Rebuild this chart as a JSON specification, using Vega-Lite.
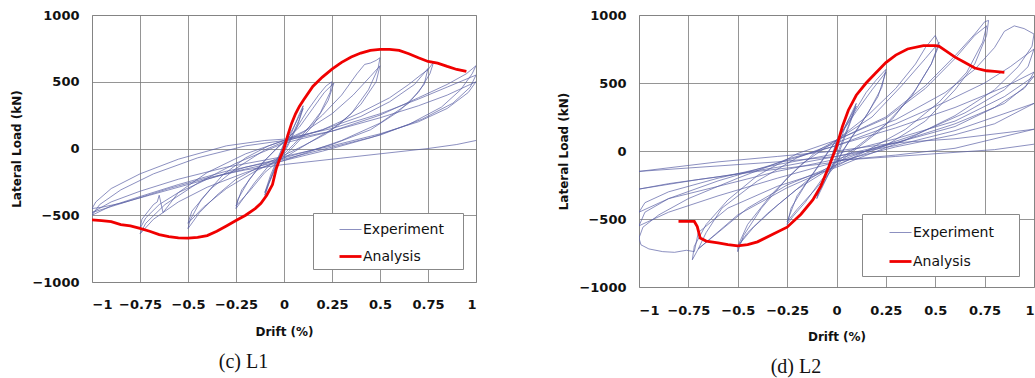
{
"$schema": "https://vega.github.io/schema/vega-lite/v6.json",
"background": "white",
"padding": {"left": 10, "top": 8, "right": 0, "bottom": 0},
"spacing": 163,
"bounds": "flush",
"config": {
  "view": {"stroke": "#aaaaaa", "strokeWidth": 1},
  "axis": {"labelFont": "DejaVu Sans", "labelFontSize": 13, "labelFontWeight": "bold", "labelColor": "#111111", "titleFont": "DejaVu Sans", "titleFontSize": 12, "titleFontWeight": "bold", "titleColor": "#111111", "ticks": false, "domain": false, "grid": true, "gridColor": "#7a7a7a", "gridWidth": 0.8, "labelPadding": 13},
  "legend": {"labelFont": "DejaVu Sans", "labelFontSize": 14, "labelColor": "#111111"}
},
"resolve": {"scale": {"color": "independent", "strokeWidth": "independent"}, "legend": {"color": "independent", "strokeWidth": "independent"}},
"hconcat": [
{
  "width": 384, "height": 267,
  "title": {"text": "(c) L1", "orient": "bottom", "frame": "bounds", "anchor": "middle", "font": "Liberation Serif", "fontSize": 20, "fontWeight": "normal", "color": "#111111", "offset": 15},
  "data": {"values": [
{"s":"Experiment","x":0,"y":0},{"s":"Experiment","x":0.04,"y":120},{"s":"Experiment","x":0.08,"y":260},{"s":"Experiment","x":0.1,"y":320},{"s":"Experiment","x":0.08,"y":220},{"s":"Experiment","x":0.04,"y":90},{"s":"Experiment","x":0,"y":-20},{"s":"Experiment","x":-0.04,"y":-130},{"s":"Experiment","x":-0.08,"y":-270},{"s":"Experiment","x":-0.1,"y":-350},{"s":"Experiment","x":-0.08,"y":-260},{"s":"Experiment","x":-0.04,"y":-110},{"s":"Experiment","x":0,"y":30},{"s":"Experiment","x":0.05,"y":160},{"s":"Experiment","x":0.1,"y":300},{"s":"Experiment","x":0.07,"y":170},{"s":"Experiment","x":0.02,"y":20},{"s":"Experiment","x":0,"y":-30},{"s":"Experiment","x":-0.05,"y":-160},{"s":"Experiment","x":-0.1,"y":-330},{"s":"Experiment","x":-0.07,"y":-200},{"s":"Experiment","x":-0.02,"y":-30},{"s":"Experiment","x":0,"y":40},
{"s":"Experiment","x":0.06,"y":140},{"s":"Experiment","x":0.12,"y":280},{"s":"Experiment","x":0.18,"y":400},{"s":"Experiment","x":0.22,"y":470},{"s":"Experiment","x":0.25,"y":500},{"s":"Experiment","x":0.24,"y":420},{"s":"Experiment","x":0.19,"y":270},{"s":"Experiment","x":0.12,"y":140},{"s":"Experiment","x":0.05,"y":30},{"s":"Experiment","x":0,"y":-40},{"s":"Experiment","x":-0.08,"y":-130},{"s":"Experiment","x":-0.15,"y":-250},{"s":"Experiment","x":-0.21,"y":-370},{"s":"Experiment","x":-0.25,"y":-450},{"s":"Experiment","x":-0.24,"y":-380},{"s":"Experiment","x":-0.18,"y":-230},{"s":"Experiment","x":-0.1,"y":-90},{"s":"Experiment","x":-0.03,"y":10},{"s":"Experiment","x":0,"y":50},
{"s":"Experiment","x":0.08,"y":160},{"s":"Experiment","x":0.15,"y":300},{"s":"Experiment","x":0.21,"y":420},{"s":"Experiment","x":0.26,"y":490},{"s":"Experiment","x":0.23,"y":360},{"s":"Experiment","x":0.15,"y":170},{"s":"Experiment","x":0.06,"y":30},{"s":"Experiment","x":0,"y":-60},{"s":"Experiment","x":-0.1,"y":-180},{"s":"Experiment","x":-0.18,"y":-320},{"s":"Experiment","x":-0.25,"y":-430},{"s":"Experiment","x":-0.22,"y":-310},{"s":"Experiment","x":-0.12,"y":-120},{"s":"Experiment","x":-0.04,"y":0},{"s":"Experiment","x":0,"y":50},
{"s":"Experiment","x":0.1,"y":120},{"s":"Experiment","x":0.2,"y":250},{"s":"Experiment","x":0.3,"y":400},{"s":"Experiment","x":0.38,"y":560},{"s":"Experiment","x":0.42,"y":630},{"s":"Experiment","x":0.45,"y":640},{"s":"Experiment","x":0.48,"y":660},{"s":"Experiment","x":0.5,"y":680},{"s":"Experiment","x":0.49,"y":600},{"s":"Experiment","x":0.44,"y":440},{"s":"Experiment","x":0.35,"y":260},{"s":"Experiment","x":0.22,"y":110},{"s":"Experiment","x":0.1,"y":20},{"s":"Experiment","x":0,"y":-50},{"s":"Experiment","x":-0.12,"y":-130},{"s":"Experiment","x":-0.25,"y":-230},{"s":"Experiment","x":-0.35,"y":-350},{"s":"Experiment","x":-0.44,"y":-480},{"s":"Experiment","x":-0.5,"y":-600},{"s":"Experiment","x":-0.49,"y":-540},{"s":"Experiment","x":-0.43,"y":-380},{"s":"Experiment","x":-0.32,"y":-200},{"s":"Experiment","x":-0.2,"y":-70},{"s":"Experiment","x":-0.08,"y":20},{"s":"Experiment","x":0,"y":60},
{"s":"Experiment","x":0.12,"y":140},{"s":"Experiment","x":0.25,"y":260},{"s":"Experiment","x":0.36,"y":400},{"s":"Experiment","x":0.45,"y":540},{"s":"Experiment","x":0.5,"y":620},{"s":"Experiment","x":0.48,"y":500},{"s":"Experiment","x":0.4,"y":330},{"s":"Experiment","x":0.28,"y":170},{"s":"Experiment","x":0.15,"y":60},{"s":"Experiment","x":0,"y":-70},{"s":"Experiment","x":-0.15,"y":-170},{"s":"Experiment","x":-0.3,"y":-300},{"s":"Experiment","x":-0.42,"y":-440},{"s":"Experiment","x":-0.5,"y":-560},{"s":"Experiment","x":-0.48,"y":-470},{"s":"Experiment","x":-0.38,"y":-300},{"s":"Experiment","x":-0.25,"y":-150},{"s":"Experiment","x":-0.1,"y":-10},{"s":"Experiment","x":0,"y":50},
{"s":"Experiment","x":0.2,"y":140},{"s":"Experiment","x":0.4,"y":270},{"s":"Experiment","x":0.55,"y":380},{"s":"Experiment","x":0.65,"y":480},{"s":"Experiment","x":0.72,"y":560},{"s":"Experiment","x":0.75,"y":590},{"s":"Experiment","x":0.78,"y":650},{"s":"Experiment","x":0.76,"y":560},{"s":"Experiment","x":0.7,"y":420},{"s":"Experiment","x":0.6,"y":280},{"s":"Experiment","x":0.45,"y":140},{"s":"Experiment","x":0.25,"y":30},{"s":"Experiment","x":0,"y":-70},{"s":"Experiment","x":-0.2,"y":-140},{"s":"Experiment","x":-0.4,"y":-230},{"s":"Experiment","x":-0.55,"y":-330},{"s":"Experiment","x":-0.65,"y":-420},{"s":"Experiment","x":-0.72,"y":-520},{"s":"Experiment","x":-0.75,"y":-600},{"s":"Experiment","x":-0.74,"y":-530},{"s":"Experiment","x":-0.68,"y":-420},{"s":"Experiment","x":-0.66,"y":-400},{"s":"Experiment","x":-0.65,"y":-350},{"s":"Experiment","x":-0.63,"y":-480},{"s":"Experiment","x":-0.55,"y":-330},{"s":"Experiment","x":-0.4,"y":-180},{"s":"Experiment","x":-0.2,"y":-40},{"s":"Experiment","x":0,"y":60},
{"s":"Experiment","x":0.2,"y":140},{"s":"Experiment","x":0.4,"y":240},{"s":"Experiment","x":0.55,"y":350},{"s":"Experiment","x":0.68,"y":480},{"s":"Experiment","x":0.75,"y":600},{"s":"Experiment","x":0.73,"y":480},{"s":"Experiment","x":0.65,"y":340},{"s":"Experiment","x":0.5,"y":190},{"s":"Experiment","x":0.3,"y":60},{"s":"Experiment","x":0.1,"y":-40},{"s":"Experiment","x":0,"y":-90},{"s":"Experiment","x":-0.2,"y":-180},{"s":"Experiment","x":-0.4,"y":-290},{"s":"Experiment","x":-0.55,"y":-400},{"s":"Experiment","x":-0.68,"y":-530},{"s":"Experiment","x":-0.75,"y":-640},{"s":"Experiment","x":-0.72,"y":-560},{"s":"Experiment","x":-0.62,"y":-420},{"s":"Experiment","x":-0.45,"y":-260},{"s":"Experiment","x":-0.25,"y":-110},{"s":"Experiment","x":0,"y":40},
{"s":"Experiment","x":0.25,"y":130},{"s":"Experiment","x":0.5,"y":250},{"s":"Experiment","x":0.7,"y":380},{"s":"Experiment","x":0.85,"y":480},{"s":"Experiment","x":0.95,"y":560},{"s":"Experiment","x":1.0,"y":620},{"s":"Experiment","x":0.98,"y":560},{"s":"Experiment","x":0.92,"y":440},{"s":"Experiment","x":0.82,"y":310},{"s":"Experiment","x":0.65,"y":180},{"s":"Experiment","x":0.45,"y":80},{"s":"Experiment","x":0.2,"y":-20},{"s":"Experiment","x":0,"y":-90},{"s":"Experiment","x":-0.25,"y":-170},{"s":"Experiment","x":-0.5,"y":-270},{"s":"Experiment","x":-0.7,"y":-350},{"s":"Experiment","x":-0.85,"y":-410},{"s":"Experiment","x":-0.95,"y":-440},{"s":"Experiment","x":-1.0,"y":-450},{"s":"Experiment","x":-0.98,"y":-400},{"s":"Experiment","x":-0.9,"y":-300},{"s":"Experiment","x":-0.75,"y":-190},{"s":"Experiment","x":-0.55,"y":-80},{"s":"Experiment","x":-0.3,"y":20},{"s":"Experiment","x":-0.1,"y":60},{"s":"Experiment","x":0,"y":70},
{"s":"Experiment","x":0.25,"y":150},{"s":"Experiment","x":0.5,"y":260},{"s":"Experiment","x":0.7,"y":370},{"s":"Experiment","x":0.85,"y":460},{"s":"Experiment","x":1.0,"y":550},{"s":"Experiment","x":0.97,"y":460},{"s":"Experiment","x":0.88,"y":340},{"s":"Experiment","x":0.72,"y":220},{"s":"Experiment","x":0.5,"y":100},{"s":"Experiment","x":0.25,"y":10},{"s":"Experiment","x":0,"y":-80},{"s":"Experiment","x":-0.3,"y":-170},{"s":"Experiment","x":-0.55,"y":-270},{"s":"Experiment","x":-0.75,"y":-360},{"s":"Experiment","x":-0.9,"y":-430},{"s":"Experiment","x":-1.0,"y":-500},{"s":"Experiment","x":-0.96,"y":-420},{"s":"Experiment","x":-0.85,"y":-310},{"s":"Experiment","x":-0.68,"y":-190},{"s":"Experiment","x":-0.45,"y":-70},{"s":"Experiment","x":-0.2,"y":20},{"s":"Experiment","x":0,"y":60},
{"s":"Experiment","x":0.25,"y":130},{"s":"Experiment","x":0.5,"y":230},{"s":"Experiment","x":0.7,"y":320},{"s":"Experiment","x":0.85,"y":400},{"s":"Experiment","x":1.0,"y":500},{"s":"Experiment","x":0.96,"y":420},{"s":"Experiment","x":0.85,"y":300},{"s":"Experiment","x":0.7,"y":200},{"s":"Experiment","x":0.5,"y":110},{"s":"Experiment","x":0.25,"y":20},{"s":"Experiment","x":0,"y":-60},{"s":"Experiment","x":-0.3,"y":-140},{"s":"Experiment","x":-0.55,"y":-230},{"s":"Experiment","x":-0.75,"y":-320},{"s":"Experiment","x":-0.9,"y":-400},{"s":"Experiment","x":-1.0,"y":-480},{"s":"Experiment","x":-0.8,"y":-390},{"s":"Experiment","x":-0.6,"y":-300},{"s":"Experiment","x":-0.4,"y":-220},{"s":"Experiment","x":-0.2,"y":-160},{"s":"Experiment","x":0,"y":-120},{"s":"Experiment","x":0.25,"y":-80},{"s":"Experiment","x":0.5,"y":-40},{"s":"Experiment","x":0.75,"y":0},{"s":"Experiment","x":0.9,"y":30},{"s":"Experiment","x":1.0,"y":60},
{"s":"Analysis","x":-1.0,"y":-535},{"s":"Analysis","x":-0.95,"y":-540},{"s":"Analysis","x":-0.9,"y":-548},{"s":"Analysis","x":-0.85,"y":-570},{"s":"Analysis","x":-0.8,"y":-580},{"s":"Analysis","x":-0.75,"y":-598},{"s":"Analysis","x":-0.7,"y":-620},{"s":"Analysis","x":-0.65,"y":-645},{"s":"Analysis","x":-0.6,"y":-660},{"s":"Analysis","x":-0.55,"y":-670},{"s":"Analysis","x":-0.5,"y":-672},{"s":"Analysis","x":-0.45,"y":-665},{"s":"Analysis","x":-0.4,"y":-652},{"s":"Analysis","x":-0.35,"y":-620},{"s":"Analysis","x":-0.3,"y":-580},{"s":"Analysis","x":-0.25,"y":-540},{"s":"Analysis","x":-0.2,"y":-500},{"s":"Analysis","x":-0.15,"y":-450},{"s":"Analysis","x":-0.12,"y":-410},{"s":"Analysis","x":-0.09,"y":-350},{"s":"Analysis","x":-0.06,"y":-270},{"s":"Analysis","x":-0.04,"y":-150},{"s":"Analysis","x":-0.02,"y":-70},{"s":"Analysis","x":0,"y":0},{"s":"Analysis","x":0.02,"y":100},{"s":"Analysis","x":0.04,"y":190},{"s":"Analysis","x":0.06,"y":260},{"s":"Analysis","x":0.08,"y":315},{"s":"Analysis","x":0.1,"y":360},{"s":"Analysis","x":0.15,"y":465},{"s":"Analysis","x":0.2,"y":535},{"s":"Analysis","x":0.25,"y":595},{"s":"Analysis","x":0.3,"y":645},{"s":"Analysis","x":0.35,"y":685},{"s":"Analysis","x":0.4,"y":715},{"s":"Analysis","x":0.45,"y":735},{"s":"Analysis","x":0.5,"y":742},{"s":"Analysis","x":0.55,"y":742},{"s":"Analysis","x":0.6,"y":735},{"s":"Analysis","x":0.65,"y":710},{"s":"Analysis","x":0.7,"y":680},{"s":"Analysis","x":0.75,"y":652},{"s":"Analysis","x":0.8,"y":640},{"s":"Analysis","x":0.85,"y":615},{"s":"Analysis","x":0.9,"y":592},{"s":"Analysis","x":0.95,"y":578}
  ]},
  "encoding": {
    "x": {"field": "x", "type": "quantitative", "scale": {"domain": [-1, 1], "nice": false, "zero": false}, "axis": {"values": [-1, -0.75, -0.5, -0.25, 0, 0.25, 0.5, 0.75, 1], "labelExpr": "datum.value < 0 ? '−' + toString(-datum.value) : toString(datum.value)", "title": "Drift (%)", "labelPadding": 16, "titlePadding": 15}},
    "y": {"field": "y", "type": "quantitative", "scale": {"domain": [-1000, 1000], "nice": false}, "axis": {"values": [-1000, -500, 0, 500, 1000], "labelExpr": "datum.value < 0 ? '−' + toString(-datum.value) : toString(datum.value)", "title": "Lateral Load (kN)", "titlePadding": 8}},
    "color": {"field": "s", "type": "nominal", "scale": {"domain": ["Experiment", "Analysis"], "range": ["#5a60a5", "#f00000"]}, "legend": {"title": null, "orient": "none", "legendX": 221, "legendY": 198, "direction": "vertical", "strokeColor": "#888888", "fillColor": "white", "padding": 5, "symbolType": "stroke", "symbolSize": 484, "rowPadding": 7, "symbolOffset": 20, "labelOffset": 0, "labelExpr": "datum.label + '\u00a0\u00a0\u00a0\u200b'"}},
    "strokeWidth": {"field": "s", "type": "nominal", "scale": {"domain": ["Experiment", "Analysis"], "range": [0.7, 2.8]}, "legend": {"title": null, "orient": "none", "legendX": 221, "legendY": 198, "direction": "vertical", "strokeColor": "#888888", "fillColor": "white", "padding": 5, "symbolType": "stroke", "symbolSize": 484, "rowPadding": 7, "symbolOffset": 20, "labelOffset": 0, "labelExpr": "datum.label + '\u00a0\u00a0\u00a0\u200b'"}},
    "order": {"value": null}
  },
  "layer": [
    {"mark": {"type": "line", "clip": true}, "transform": [{"filter": "datum.s == 'Experiment'"}]},
    {"mark": {"type": "line", "clip": true}, "transform": [{"filter": "datum.s == 'Analysis'"}]}
  ]
},
{
  "width": 395, "height": 272,
  "title": {"text": "(d) L2", "orient": "bottom", "frame": "bounds", "anchor": "middle", "font": "Liberation Serif", "fontSize": 20, "fontWeight": "normal", "color": "#111111", "offset": 15},
  "data": {"values": [
{"s":"Experiment","x":0,"y":0},{"s":"Experiment","x":0.05,"y":200},{"s":"Experiment","x":0.1,"y":350},{"s":"Experiment","x":0.07,"y":220},{"s":"Experiment","x":0.02,"y":40},{"s":"Experiment","x":0,"y":-40},{"s":"Experiment","x":-0.05,"y":-200},{"s":"Experiment","x":-0.1,"y":-350},{"s":"Experiment","x":-0.07,"y":-220},{"s":"Experiment","x":-0.02,"y":-40},{"s":"Experiment","x":0,"y":60},{"s":"Experiment","x":0.05,"y":200},{"s":"Experiment","x":0.1,"y":330},{"s":"Experiment","x":0.06,"y":170},{"s":"Experiment","x":0,"y":-60},{"s":"Experiment","x":-0.1,"y":-330},{"s":"Experiment","x":-0.05,"y":-150},{"s":"Experiment","x":0,"y":70},
{"s":"Experiment","x":0.08,"y":260},{"s":"Experiment","x":0.15,"y":430},{"s":"Experiment","x":0.2,"y":520},{"s":"Experiment","x":0.25,"y":600},{"s":"Experiment","x":0.23,"y":470},{"s":"Experiment","x":0.16,"y":280},{"s":"Experiment","x":0.08,"y":110},{"s":"Experiment","x":0,"y":-80},{"s":"Experiment","x":-0.08,"y":-220},{"s":"Experiment","x":-0.16,"y":-380},{"s":"Experiment","x":-0.22,"y":-480},{"s":"Experiment","x":-0.25,"y":-540},{"s":"Experiment","x":-0.23,"y":-420},{"s":"Experiment","x":-0.15,"y":-230},{"s":"Experiment","x":-0.06,"y":-40},{"s":"Experiment","x":0,"y":80},
{"s":"Experiment","x":0.1,"y":290},{"s":"Experiment","x":0.18,"y":450},{"s":"Experiment","x":0.25,"y":580},{"s":"Experiment","x":0.21,"y":400},{"s":"Experiment","x":0.12,"y":190},{"s":"Experiment","x":0.03,"y":0},{"s":"Experiment","x":0,"y":-100},{"s":"Experiment","x":-0.1,"y":-270},{"s":"Experiment","x":-0.2,"y":-430},{"s":"Experiment","x":-0.25,"y":-520},{"s":"Experiment","x":-0.2,"y":-330},{"s":"Experiment","x":-0.1,"y":-130},{"s":"Experiment","x":0,"y":80},
{"s":"Experiment","x":0.15,"y":250},{"s":"Experiment","x":0.3,"y":460},{"s":"Experiment","x":0.4,"y":640},{"s":"Experiment","x":0.45,"y":760},{"s":"Experiment","x":0.5,"y":850},{"s":"Experiment","x":0.52,"y":780},{"s":"Experiment","x":0.48,"y":640},{"s":"Experiment","x":0.4,"y":450},{"s":"Experiment","x":0.28,"y":230},{"s":"Experiment","x":0.12,"y":50},{"s":"Experiment","x":0,"y":-80},{"s":"Experiment","x":-0.15,"y":-220},{"s":"Experiment","x":-0.3,"y":-400},{"s":"Experiment","x":-0.42,"y":-560},{"s":"Experiment","x":-0.5,"y":-700},{"s":"Experiment","x":-0.5,"y":-740},{"s":"Experiment","x":-0.47,"y":-620},{"s":"Experiment","x":-0.38,"y":-420},{"s":"Experiment","x":-0.25,"y":-200},{"s":"Experiment","x":-0.1,"y":0},{"s":"Experiment","x":0,"y":80},
{"s":"Experiment","x":0.18,"y":250},{"s":"Experiment","x":0.33,"y":480},{"s":"Experiment","x":0.45,"y":680},{"s":"Experiment","x":0.52,"y":800},{"s":"Experiment","x":0.48,"y":640},{"s":"Experiment","x":0.38,"y":400},{"s":"Experiment","x":0.22,"y":150},{"s":"Experiment","x":0.05,"y":-40},{"s":"Experiment","x":0,"y":-100},{"s":"Experiment","x":-0.2,"y":-280},{"s":"Experiment","x":-0.35,"y":-460},{"s":"Experiment","x":-0.45,"y":-600},{"s":"Experiment","x":-0.5,"y":-700},{"s":"Experiment","x":-0.45,"y":-540},{"s":"Experiment","x":-0.33,"y":-320},{"s":"Experiment","x":-0.18,"y":-100},{"s":"Experiment","x":0,"y":80},
{"s":"Experiment","x":0.25,"y":250},{"s":"Experiment","x":0.45,"y":480},{"s":"Experiment","x":0.6,"y":700},{"s":"Experiment","x":0.7,"y":860},{"s":"Experiment","x":0.75,"y":950},{"s":"Experiment","x":0.77,"y":960},{"s":"Experiment","x":0.76,"y":850},{"s":"Experiment","x":0.7,"y":640},{"s":"Experiment","x":0.6,"y":450},{"s":"Experiment","x":0.45,"y":220},{"s":"Experiment","x":0.25,"y":40},{"s":"Experiment","x":0,"y":-100},{"s":"Experiment","x":-0.25,"y":-250},{"s":"Experiment","x":-0.45,"y":-420},{"s":"Experiment","x":-0.6,"y":-600},{"s":"Experiment","x":-0.7,"y":-720},{"s":"Experiment","x":-0.73,"y":-800},{"s":"Experiment","x":-0.72,"y":-700},{"s":"Experiment","x":-0.66,"y":-540},{"s":"Experiment","x":-0.55,"y":-360},{"s":"Experiment","x":-0.4,"y":-180},{"s":"Experiment","x":-0.2,"y":-20},{"s":"Experiment","x":0,"y":80},
{"s":"Experiment","x":0.25,"y":240},{"s":"Experiment","x":0.45,"y":460},{"s":"Experiment","x":0.6,"y":680},{"s":"Experiment","x":0.7,"y":850},{"s":"Experiment","x":0.76,"y":920},{"s":"Experiment","x":0.74,"y":800},{"s":"Experiment","x":0.66,"y":580},{"s":"Experiment","x":0.52,"y":360},{"s":"Experiment","x":0.35,"y":160},{"s":"Experiment","x":0.15,"y":0},{"s":"Experiment","x":0,"y":-110},{"s":"Experiment","x":-0.25,"y":-270},{"s":"Experiment","x":-0.5,"y":-470},{"s":"Experiment","x":-0.62,"y":-620},{"s":"Experiment","x":-0.7,"y":-720},{"s":"Experiment","x":-0.66,"y":-600},{"s":"Experiment","x":-0.58,"y":-420},{"s":"Experiment","x":-0.4,"y":-220},{"s":"Experiment","x":-0.2,"y":-50},{"s":"Experiment","x":0,"y":60},
{"s":"Experiment","x":0.3,"y":230},{"s":"Experiment","x":0.55,"y":430},{"s":"Experiment","x":0.7,"y":600},{"s":"Experiment","x":0.8,"y":760},{"s":"Experiment","x":0.85,"y":880},{"s":"Experiment","x":0.9,"y":920},{"s":"Experiment","x":0.95,"y":900},{"s":"Experiment","x":1.0,"y":860},{"s":"Experiment","x":0.99,"y":770},{"s":"Experiment","x":0.92,"y":620},{"s":"Experiment","x":0.8,"y":450},{"s":"Experiment","x":0.6,"y":260},{"s":"Experiment","x":0.35,"y":80},{"s":"Experiment","x":0.1,"y":-60},{"s":"Experiment","x":0,"y":-120},{"s":"Experiment","x":-0.3,"y":-260},{"s":"Experiment","x":-0.55,"y":-420},{"s":"Experiment","x":-0.7,"y":-600},{"s":"Experiment","x":-0.72,"y":-740},{"s":"Experiment","x":-0.76,"y":-730},{"s":"Experiment","x":-0.82,"y":-745},{"s":"Experiment","x":-0.88,"y":-740},{"s":"Experiment","x":-0.95,"y":-720},{"s":"Experiment","x":-0.99,"y":-690},{"s":"Experiment","x":-1.0,"y":-640},{"s":"Experiment","x":-0.98,"y":-560},{"s":"Experiment","x":-0.9,"y":-470},{"s":"Experiment","x":-0.75,"y":-350},{"s":"Experiment","x":-0.5,"y":-200},{"s":"Experiment","x":-0.25,"y":-60},{"s":"Experiment","x":0,"y":40},
{"s":"Experiment","x":0.3,"y":200},{"s":"Experiment","x":0.55,"y":360},{"s":"Experiment","x":0.75,"y":500},{"s":"Experiment","x":0.88,"y":620},{"s":"Experiment","x":1.0,"y":750},{"s":"Experiment","x":0.97,"y":620},{"s":"Experiment","x":0.85,"y":450},{"s":"Experiment","x":0.65,"y":280},{"s":"Experiment","x":0.4,"y":120},{"s":"Experiment","x":0.15,"y":0},{"s":"Experiment","x":0,"y":-80},{"s":"Experiment","x":-0.3,"y":-200},{"s":"Experiment","x":-0.6,"y":-330},{"s":"Experiment","x":-0.85,"y":-450},{"s":"Experiment","x":-1.0,"y":-550},{"s":"Experiment","x":-0.97,"y":-450},{"s":"Experiment","x":-0.85,"y":-350},{"s":"Experiment","x":-0.6,"y":-220},{"s":"Experiment","x":-0.3,"y":-90},{"s":"Experiment","x":0,"y":40},
{"s":"Experiment","x":0.3,"y":170},{"s":"Experiment","x":0.6,"y":320},{"s":"Experiment","x":0.85,"y":470},{"s":"Experiment","x":1.0,"y":580},{"s":"Experiment","x":0.96,"y":480},{"s":"Experiment","x":0.85,"y":350},{"s":"Experiment","x":0.6,"y":200},{"s":"Experiment","x":0.3,"y":60},{"s":"Experiment","x":0,"y":-60},{"s":"Experiment","x":-0.3,"y":-150},{"s":"Experiment","x":-0.6,"y":-260},{"s":"Experiment","x":-0.85,"y":-350},{"s":"Experiment","x":-1.0,"y":-450},{"s":"Experiment","x":-0.97,"y":-380},{"s":"Experiment","x":-0.85,"y":-300},{"s":"Experiment","x":-0.6,"y":-200},{"s":"Experiment","x":-0.3,"y":-100},{"s":"Experiment","x":0,"y":-20},
{"s":"Experiment","x":0.3,"y":90},{"s":"Experiment","x":0.6,"y":220},{"s":"Experiment","x":0.85,"y":400},{"s":"Experiment","x":1.0,"y":550},{"s":"Experiment","x":0.95,"y":460},{"s":"Experiment","x":0.8,"y":320},{"s":"Experiment","x":0.6,"y":180},{"s":"Experiment","x":0.3,"y":60},{"s":"Experiment","x":0,"y":-40},{"s":"Experiment","x":-0.3,"y":-120},{"s":"Experiment","x":-0.6,"y":-190},{"s":"Experiment","x":-0.85,"y":-240},{"s":"Experiment","x":-1.0,"y":-280},{"s":"Experiment","x":-0.7,"y":-210},{"s":"Experiment","x":-0.4,"y":-150},{"s":"Experiment","x":-0.1,"y":-100},{"s":"Experiment","x":0,"y":-80},
{"s":"Experiment","x":0.3,"y":30},{"s":"Experiment","x":0.6,"y":120},{"s":"Experiment","x":0.8,"y":200},{"s":"Experiment","x":1.0,"y":350},{"s":"Experiment","x":0.9,"y":300},{"s":"Experiment","x":0.6,"y":150},{"s":"Experiment","x":0.3,"y":40},{"s":"Experiment","x":0,"y":-40},{"s":"Experiment","x":-0.3,"y":-80},{"s":"Experiment","x":-0.6,"y":-110},{"s":"Experiment","x":-1.0,"y":-150},{"s":"Experiment","x":-0.6,"y":-80},{"s":"Experiment","x":-0.3,"y":-40},{"s":"Experiment","x":0,"y":0},{"s":"Experiment","x":0.3,"y":60},{"s":"Experiment","x":0.6,"y":90},{"s":"Experiment","x":1.0,"y":160},{"s":"Experiment","x":0.6,"y":20},{"s":"Experiment","x":0.3,"y":-30},{"s":"Experiment","x":0,"y":-70},{"s":"Experiment","x":0.3,"y":-40},{"s":"Experiment","x":0.6,"y":-10},{"s":"Experiment","x":0.8,"y":10},{"s":"Experiment","x":1.0,"y":50},
{"s":"Analysis","x":-0.8,"y":-518},{"s":"Analysis","x":-0.72,"y":-518},{"s":"Analysis","x":-0.705,"y":-556},{"s":"Analysis","x":-0.69,"y":-640},{"s":"Analysis","x":-0.66,"y":-662},{"s":"Analysis","x":-0.6,"y":-675},{"s":"Analysis","x":-0.55,"y":-688},{"s":"Analysis","x":-0.5,"y":-698},{"s":"Analysis","x":-0.45,"y":-688},{"s":"Analysis","x":-0.4,"y":-668},{"s":"Analysis","x":-0.32,"y":-610},{"s":"Analysis","x":-0.25,"y":-560},{"s":"Analysis","x":-0.18,"y":-465},{"s":"Analysis","x":-0.12,"y":-360},{"s":"Analysis","x":-0.08,"y":-260},{"s":"Analysis","x":-0.04,"y":-120},{"s":"Analysis","x":0,"y":30},{"s":"Analysis","x":0.03,"y":180},{"s":"Analysis","x":0.06,"y":300},{"s":"Analysis","x":0.1,"y":410},{"s":"Analysis","x":0.15,"y":500},{"s":"Analysis","x":0.19,"y":560},{"s":"Analysis","x":0.25,"y":650},{"s":"Analysis","x":0.3,"y":705},{"s":"Analysis","x":0.36,"y":750},{"s":"Analysis","x":0.44,"y":775},{"s":"Analysis","x":0.5,"y":775},{"s":"Analysis","x":0.52,"y":770},{"s":"Analysis","x":0.55,"y":740},{"s":"Analysis","x":0.6,"y":690},{"s":"Analysis","x":0.65,"y":650},{"s":"Analysis","x":0.7,"y":610},{"s":"Analysis","x":0.76,"y":590},{"s":"Analysis","x":0.8,"y":585},{"s":"Analysis","x":0.85,"y":578}
  ]},
  "encoding": {
    "x": {"field": "x", "type": "quantitative", "scale": {"domain": [-1, 1], "nice": false, "zero": false}, "axis": {"values": [-1, -0.75, -0.5, -0.25, 0, 0.25, 0.5, 0.75, 1], "labelExpr": "datum.value < 0 ? '−' + toString(-datum.value) : toString(datum.value)", "title": "Drift (%)", "labelPadding": 17, "titlePadding": 14}},
    "y": {"field": "y", "type": "quantitative", "scale": {"domain": [-1000, 1000], "nice": false}, "axis": {"values": [-1000, -500, 0, 500, 1000], "labelExpr": "datum.value < 0 ? '−' + toString(-datum.value) : toString(datum.value)", "title": "Lateral Load (kN)", "titlePadding": 8}},
    "color": {"field": "s", "type": "nominal", "scale": {"domain": ["Experiment", "Analysis"], "range": ["#5a60a5", "#f00000"]}, "legend": {"title": null, "orient": "none", "legendX": 223, "legendY": 199, "direction": "vertical", "strokeColor": "#888888", "fillColor": "white", "padding": 7, "symbolType": "stroke", "symbolSize": 484, "rowPadding": 9, "symbolOffset": 19, "labelOffset": 0, "labelExpr": "datum.label + '\u00a0\u00a0\u00a0\u00a0\u200b'"}},
    "strokeWidth": {"field": "s", "type": "nominal", "scale": {"domain": ["Experiment", "Analysis"], "range": [0.7, 2.8]}, "legend": {"title": null, "orient": "none", "legendX": 223, "legendY": 199, "direction": "vertical", "strokeColor": "#888888", "fillColor": "white", "padding": 7, "symbolType": "stroke", "symbolSize": 484, "rowPadding": 9, "symbolOffset": 19, "labelOffset": 0, "labelExpr": "datum.label + '\u00a0\u00a0\u00a0\u00a0\u200b'"}},
    "order": {"value": null}
  },
  "layer": [
    {"mark": {"type": "line", "clip": true}, "transform": [{"filter": "datum.s == 'Experiment'"}]},
    {"mark": {"type": "line", "clip": true}, "transform": [{"filter": "datum.s == 'Analysis'"}]}
  ]
}
]
}
